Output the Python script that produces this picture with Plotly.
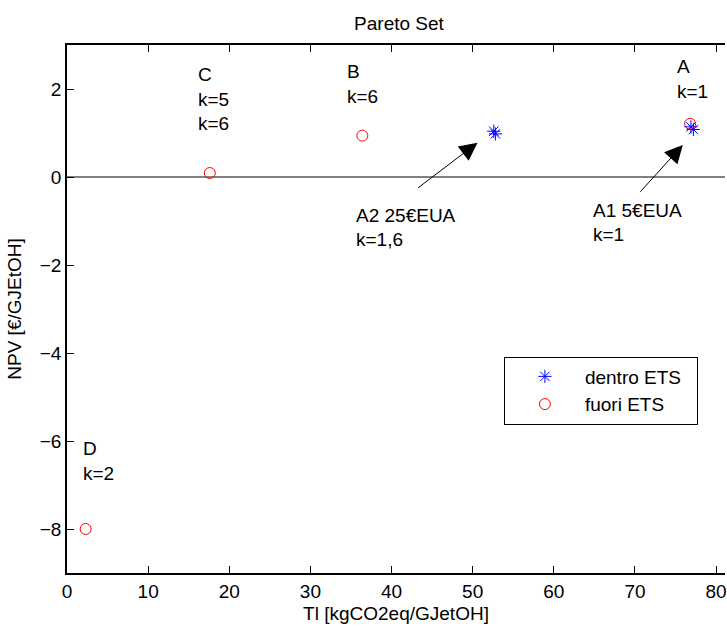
import plotly.graph_objects as go

# Pareto set: solutions inside and outside the ETS
dentro_ti = [52.6, 52.8, 76.9, 77.2]
dentro_npv = [1.04, 0.98, 1.14, 1.08]
fuori_ti = [2.3, 17.6, 36.4, 76.8]
fuori_npv = [-8.0, 0.09, 0.94, 1.21]

x_ticks = [0, 10, 20, 30, 40, 50, 60, 70, 80]
y_ticks = [-8, -6, -4, -2, 0, 2]

# point labels: (x, y of first line, lines)
point_labels = [
    (74.9, 2.51, ["A", "k=1"]),
    (34.3, 2.40, ["B", "k=6"]),
    (15.9, 2.33, ["C", "k=5", "k=6"]),
    (1.7, -6.17, ["D", "k=2"]),
    (35.4, -0.87, ["A2 25€EUA", "k=1,6"]),
    (64.6, -0.75, ["A1 5€EUA", "k=1"]),
]
# arrows: (tail x, tail y, head x, head y)
arrows = [
    (43.1, -0.27, 50.6, 0.78),
    (70.5, -0.37, 75.9, 0.73),
]

FONT = "Liberation Sans, Arial, sans-serif"
FS = 19
LINE_STEP = 0.56  # vertical step between label lines, in NPV units
PAD = "\u00a0" * 2  # extra room at the right of the legend entries

fig = go.Figure()
fig.add_trace(go.Scatter(
    x=dentro_ti, y=dentro_npv, mode="markers", name="dentro ETS" + PAD,
    marker=dict(symbol="asterisk-open", size=11, color="blue",
                line=dict(color="blue", width=1)),
))
fig.add_trace(go.Scatter(
    x=fuori_ti, y=fuori_npv, mode="markers", name="fuori ETS" + PAD,
    marker=dict(symbol="circle-open", size=11, color="red",
                line=dict(color="red", width=1)),
))

annotations = []
for x0, y0, lines in point_labels:
    for i, line in enumerate(lines):
        annotations.append(dict(
            x=x0, y=y0 - i * LINE_STEP, xref="x", yref="y", text=line,
            showarrow=False, xanchor="left", yanchor="middle",
            font=dict(family=FONT, size=FS, color="black"),
        ))
for tx, ty, hx, hy in arrows:
    annotations.append(dict(
        x=hx, y=hy, ax=tx, ay=ty, xref="x", yref="y", axref="x", ayref="y",
        text="", showarrow=True, arrowhead=2, arrowsize=3.6, arrowwidth=1,
        arrowcolor="black", standoff=0,
    ))

fig.update_layout(
    width=727, height=628,
    margin=dict(l=67, r=0, t=45, b=55),
    paper_bgcolor="white", plot_bgcolor="white",
    font=dict(family=FONT, size=FS, color="black"),
    title=dict(text="Pareto Set", x=399 / 727, xanchor="center",
               y=1 - 23 / 628, yanchor="middle", yref="container",
               font=dict(family=FONT, size=FS, color="black")),
    showlegend=True,
    legend=dict(
        x=0.664, y=0.41, xanchor="left", yanchor="top",
        bordercolor="black", borderwidth=1, bgcolor="white",
        font=dict(family=FONT, size=FS, color="black"),
        itemwidth=70, tracegroupgap=0,
    ),
    annotations=annotations,
)
fig.update_xaxes(
    range=[0, 81.1], tickvals=x_ticks, ticks="inside", ticklen=7,
    tickcolor="black", showline=True, linecolor="black", linewidth=1.5,
    mirror="ticks", showgrid=False, zeroline=False,
    ticklabeloverflow="allow",
    title=dict(text="Tl [kgCO2eq/GJetOH]", standoff=6,
               font=dict(family=FONT, size=FS)),
)
fig.update_yaxes(
    range=[-9, 3], tickvals=y_ticks, ticks="inside", ticklen=7,
    tickcolor="black", showline=True, linecolor="black", linewidth=1.5,
    mirror=False, showgrid=False,
    zeroline=True, zerolinecolor="#808080", zerolinewidth=2,
    title=dict(text="NPV [€/GJEtOH]", standoff=13,
               font=dict(family=FONT, size=FS)),
)

fig.write_html("out.html")
